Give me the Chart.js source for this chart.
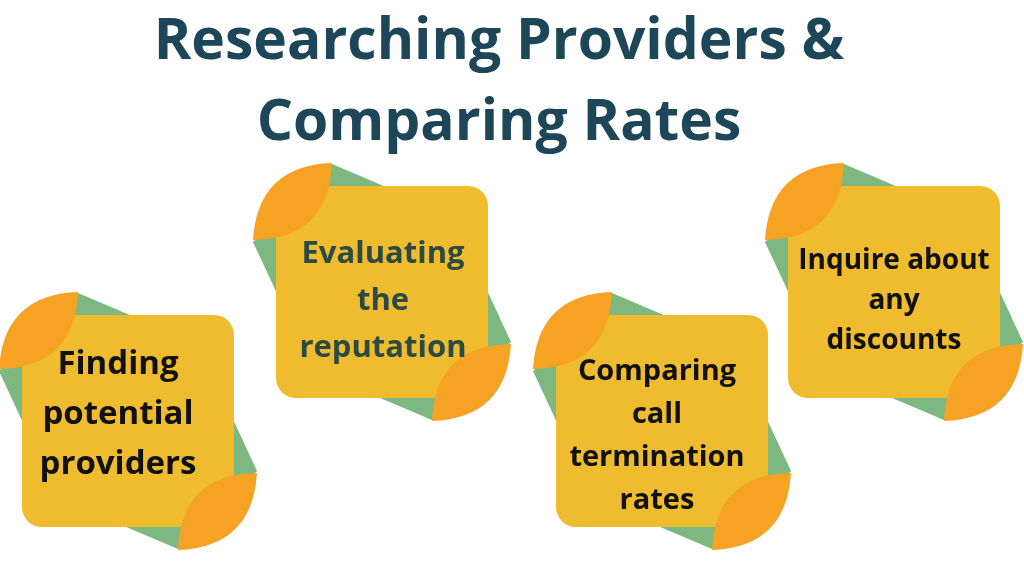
<!DOCTYPE html>
<html>
<head>
<meta charset="utf-8">
<script src="https://cdn.jsdelivr.net/npm/chart.js@4/dist/chart.umd.min.js"></script>
<style>
  html, body { margin: 0; padding: 0; background: #fff; }
  #wrap { width: 1024px; height: 576px; }
</style>
</head>
<body>
<div id="wrap"><canvas id="c"></canvas></div>
<script>
// title lines and the four steps
var titleLines = ['Researching Providers &', 'Comparing Rates'];
var stepLabels = [
    ['Finding', 'potential', 'providers'],
    ['Evaluating', 'the', 'reputation'],
    ['Comparing', 'call', 'termination', 'rates'],
    ['Inquire about', 'any', 'discounts']
];
// card centres in page coordinates
var stepX = [128, 382, 662, 894];
var stepY = [421, 292, 421, 292];
var textX = [118, 383, 657, 894];
var textY = [415, 301, 436, 301];
var textColors = ['#111111', '#2a4a42', '#111111', '#111111'];
var fontSizes = [33, 31, 29, 28];
var lineGaps = [50, 47, 43, 40];

function roundRect(ctx, x, y, w, h, r) {
    ctx.beginPath();
    ctx.moveTo(x + r, y);
    ctx.arcTo(x + w, y, x + w, y + h, r);
    ctx.arcTo(x + w, y + h, x, y + h, r);
    ctx.arcTo(x, y + h, x, y, r);
    ctx.arcTo(x, y, x + w, y, r);
    ctx.closePath();
}

function lens(ctx, ax, ay, bx, by, bulge, inner) {
    var mx = (ax + bx) / 2, my = (ay + by) / 2;
    var dx = bx - ax, dy = by - ay, len = Math.sqrt(dx * dx + dy * dy);
    var nx = dy / len, ny = -dx / len;
    ctx.beginPath();
    ctx.moveTo(ax, ay);
    ctx.quadraticCurveTo(mx + nx * bulge, my + ny * bulge, bx, by);
    ctx.quadraticCurveTo(mx - nx * inner, my - ny * inner, ax, ay);
    ctx.closePath();
    ctx.fill();
}

var cardsPlugin = {
    id: 'cards',
    afterDatasetsDraw: function(chart) {
        var ctx = chart.ctx;
        var xs = chart.scales.x, ys = chart.scales.y;
        ctx.save();
        ctx.fillStyle = '#1d4658';
        ctx.font = 'bold 57px "Open Sans"';
        ctx.textAlign = 'center';
        ctx.textBaseline = 'middle';
        ctx.fillText(titleLines[0], xs.getPixelForValue(499), ys.getPixelForValue(43));
        ctx.fillText(titleLines[1], xs.getPixelForValue(499), ys.getPixelForValue(124));
        var meta = chart.getDatasetMeta(0);
        meta.data.forEach(function(pt, i) {
            var cx = pt.x, cy = pt.y, h = 106;
            // green tilted backing shape
            ctx.fillStyle = '#7cb87f';
            ctx.beginPath();
            ctx.moveTo(cx - 50, cy - 128);
            ctx.lineTo(cx + 70, cy - 77);
            ctx.lineTo(cx + 129, cy + 50);
            ctx.lineTo(cx + 50, cy + 128);
            ctx.lineTo(cx - 70, cy + 77);
            ctx.lineTo(cx - 129, cy - 50);
            ctx.closePath();
            ctx.fill();
            // yellow card
            ctx.fillStyle = '#efbb2f';
            roundRect(ctx, cx - h, cy - h, 2 * h, 2 * h, 20);
            ctx.fill();
            // orange leaves
            ctx.fillStyle = '#f6a325';
            lens(ctx, cx - 129, cy - 52, cx - 50, cy - 129, 50, 52);
            lens(ctx, cx + 129, cy + 52, cx + 50, cy + 129, 50, 52);
            // label
            var lines = stepLabels[i];
            var lh = lineGaps[i];
            ctx.fillStyle = textColors[i];
            ctx.font = 'bold ' + fontSizes[i] + 'px "Open Sans"';
            var tx = xs.getPixelForValue(textX[i]);
            var y0 = ys.getPixelForValue(textY[i]) - (lines.length - 1) * lh / 2;
            lines.forEach(function(t, k) {
                ctx.fillText(t, tx, y0 + k * lh);
            });
        });
        ctx.restore();
    }
};

new Chart(document.getElementById('c'), {
    type: 'scatter',
    data: {
        datasets: [{
            data: stepX.map(function(x, i) { return { x: x, y: stepY[i] }; }),
            pointRadius: 0
        }]
    },
    options: {
        responsive: true,
        maintainAspectRatio: false,
        animation: false,
        layout: { padding: 0 },
        plugins: { legend: { display: false }, tooltip: { enabled: false } },
        scales: {
            x: { type: 'linear', min: 0, max: 1024, display: false },
            y: { type: 'linear', min: 0, max: 576, reverse: true, display: false }
        }
    },
    plugins: [cardsPlugin]
});
</script>
</body>
</html>
